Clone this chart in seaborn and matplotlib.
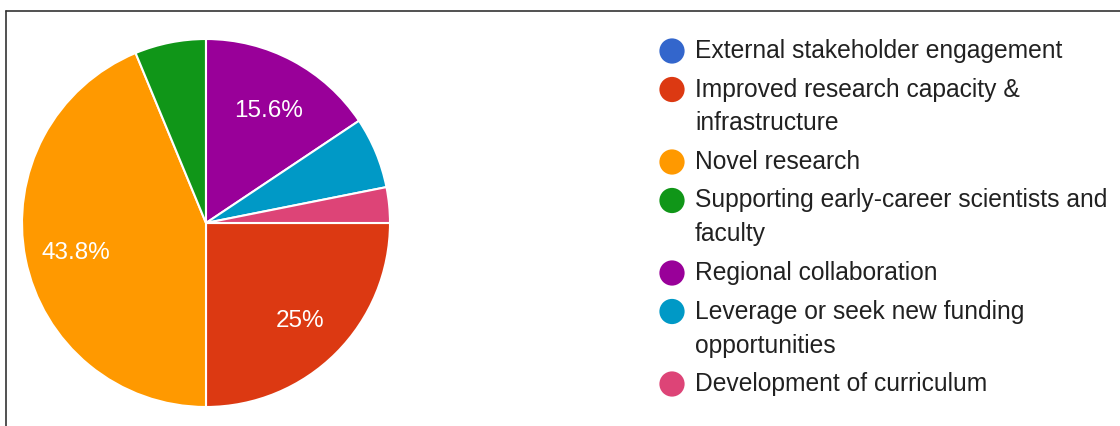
import numpy as np
import matplotlib.pyplot as plt
import seaborn as sns
from matplotlib.lines import Line2D

sns.set_style("white")
plt.rcParams['font.family'] = ['Liberation Sans', 'DejaVu Sans']

# data: number of responses per category (legend order)
categories = ["External stakeholder engagement",
              "Improved research capacity &\ninfrastructure",
              "Novel research",
              "Supporting early-career scientists and\nfaculty",
              "Regional collaboration",
              "Leverage or seek new funding\nopportunities",
              "Development of curriculum"]
counts = [0, 8, 14, 2, 5, 2, 1]
colors = ["#3366cc", "#dc3912", "#ff9900", "#109618", "#990099", "#0099c6", "#dd4477"]

fig = plt.figure(figsize=(11.2, 4.26), dpi=100)

# pie axes, centre at (206, 223) px, radius 184 px
cx, cy, r = 206, 223, 184
W, H = 1120, 426
ax = fig.add_axes([(cx - r) / W, (H - cy - r) / H, 2 * r / W, 2 * r / H])

vals = [c for c in counts if c > 0]
cols = [col for c, col in zip(counts, colors) if c > 0]

def pct(p):
    if p < 10:
        return ""
    return "{:g}%".format(round(p, 1))

wedges, texts, autotexts = ax.pie(vals, colors=cols, startangle=0, counterclock=False,
                                  autopct=pct, pctdistance=0.72,
                                  wedgeprops=dict(edgecolor="white", linewidth=1.5))
for t in autotexts:
    t.set_color("white")
    t.set_fontsize(17.5)
    # nudge down a little to match reference baseline
    x0, y0 = t.get_position()
    t.set_position((x0, y0 - 0.025))
ax.set_xlim(-1, 1)
ax.set_ylim(-1, 1)
ax.set_aspect("equal")

# legend drawn on an overlay in pixel coordinates
lax = fig.add_axes([0, 0, 1, 1], zorder=-1)
lax.set_xlim(0, W)
lax.set_ylim(H, 0)
lax.axis("off")

y = 51
for lab, col in zip(categories, colors):
    lax.scatter([672], [y], s=330, color=col, edgecolor="none")
    lines = lab.split("\n")
    for k, ln in enumerate(lines):
        lax.text(695, y + k * 34, ln, fontsize=17.7, color="#212121", va="center", ha="left")
    y += (len(lines) - 1) * 34 + 38.5

# frame lines (top and left)
fig.add_artist(Line2D([6 / W, 1], [1 - 11 / H, 1 - 11 / H], color="#333333", lw=1.2))
fig.add_artist(Line2D([6 / W, 6 / W], [0, 1 - 11 / H], color="#333333", lw=1.2))

fig.savefig("out.png", dpi=100)
